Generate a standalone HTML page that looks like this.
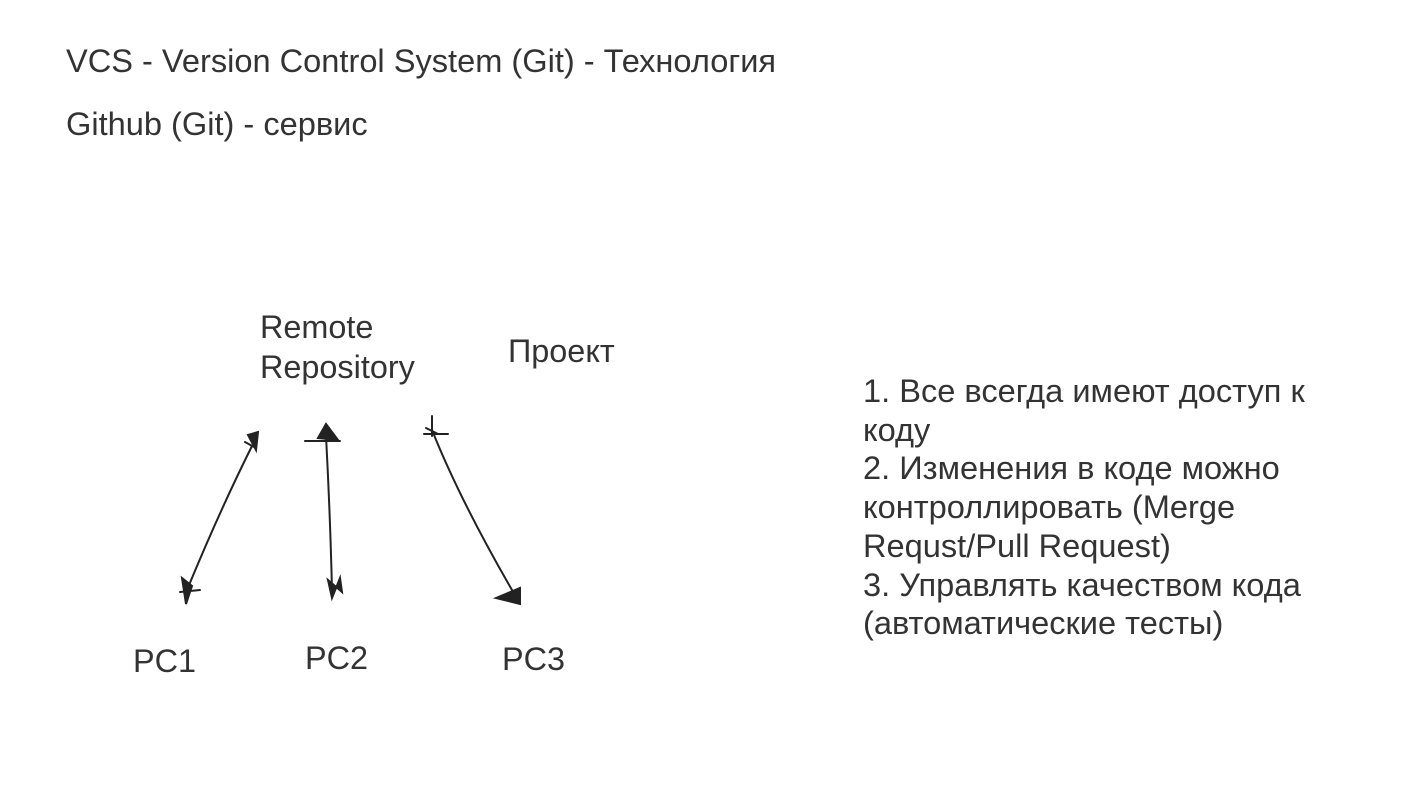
<!DOCTYPE html>
<html><head><meta charset="utf-8"><style>
body{margin:0;width:1422px;height:800px;background:#fff;position:relative;overflow:hidden;font-family:"Liberation Sans","DejaVu Sans",sans-serif;color:#333}
.t{position:absolute;white-space:nowrap;line-height:1}
</style></head><body>
<div class="t" style="left:66px;top:45px;font-size:32.6px">VCS - Version Control System (Git) - Технология</div>
<div class="t" style="left:66px;top:108px;font-size:32.6px">Github (Git) - сервис</div>
<div class="t" style="left:260px;top:307px;font-size:32.4px;line-height:40px;white-space:normal;width:220px">Remote<br>Repository</div>
<div class="t" style="left:508px;top:335px;font-size:32.4px">Проект</div>
<div class="t" style="left:133px;top:645px;font-size:32.4px">PC1</div>
<div class="t" style="left:305px;top:642px;font-size:32.4px">PC2</div>
<div class="t" style="left:502px;top:643px;font-size:32.4px">PC3</div>
<div class="t" style="left:863px;top:372px;font-size:32.6px;line-height:38.7px;white-space:normal;width:520px">1. Все всегда имеют доступ к<br>коду<br>2. Изменения в коде можно<br>контроллировать (Merge<br>Requst/Pull Request)<br>3. Управлять качеством кода<br>(автоматические тесты)</div>
<svg width="1422" height="800" style="position:absolute;left:0;top:0" fill="none" stroke="#222" stroke-width="2" stroke-linecap="round">
<path d="M252 446 Q220 510 187 590"/>
<path d="M248 435 L258 432 L256 450 Z M245 442 L256 448" fill="#222"/>
<path d="M182 578 L186 604 L192 586 Z M180 592 L200 590" fill="#222"/>
<path d="M326 436 Q330 510 332 590"/>
<path d="M318 438 L326 424 L338 440 Z M305 441 L340 441" fill="#222"/>
<path d="M328 580 L332 598 L340 578 L342 592 Z" fill="#222"/>
<path d="M432 430 Q460 500 512 590"/>
<path d="M432 416 L432 436 M424 434 L448 434 M426 428 L438 434" />
<path d="M496 598 L520 588 L520 604 Z" fill="#222"/>
</svg>
</body></html>
